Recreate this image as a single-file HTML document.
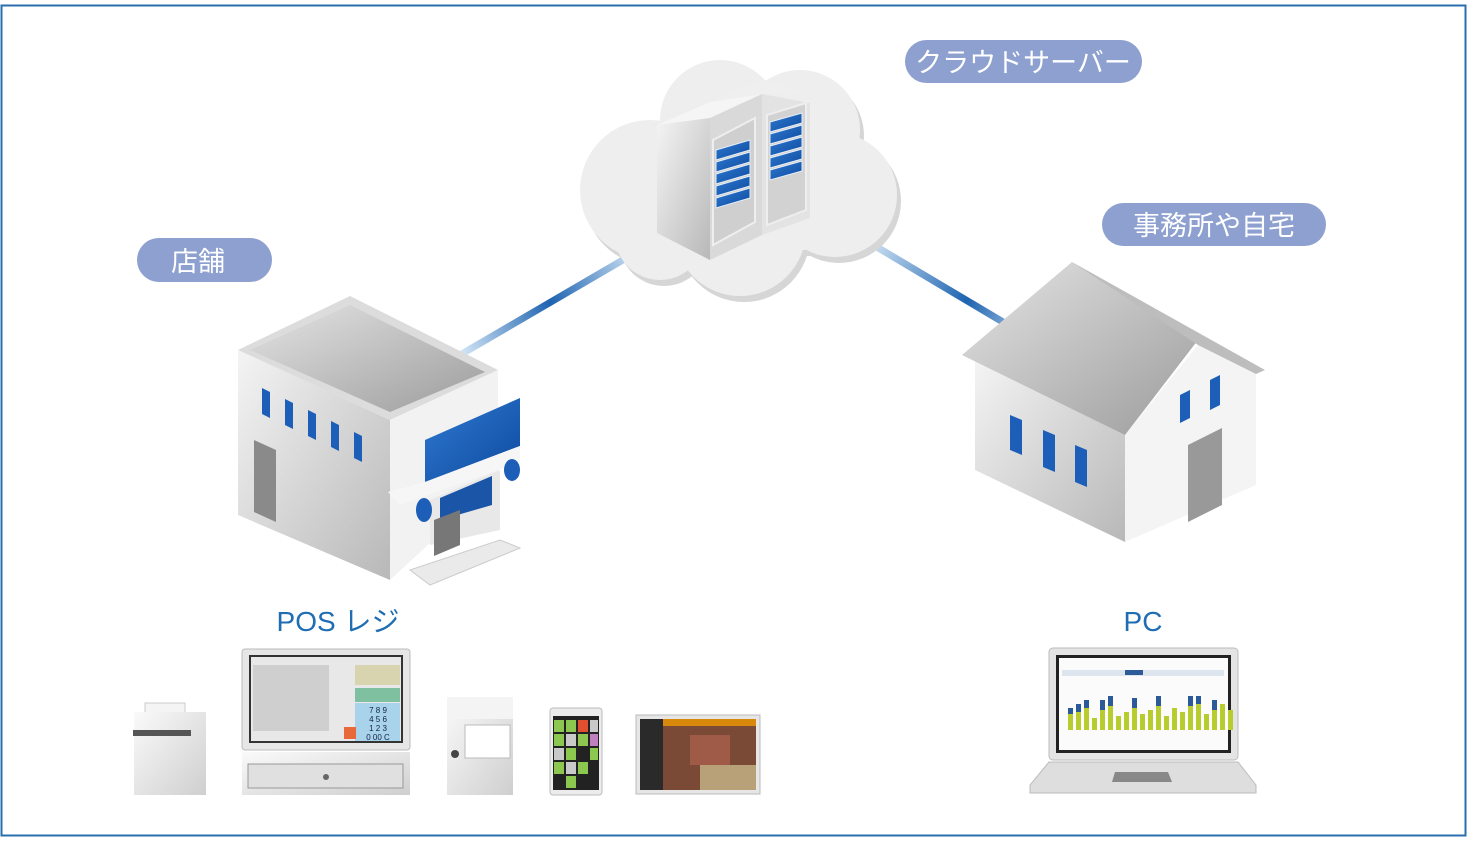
<!DOCTYPE html>
<html><head><meta charset="utf-8"><style>
html,body{margin:0;padding:0;background:#fff;}
svg{display:block;}
text{font-family:"Liberation Sans","Noto Sans CJK JP",sans-serif;}
</style></head><body>
<svg width="1467" height="847" viewBox="0 0 1467 847" xmlns="http://www.w3.org/2000/svg">
<defs>
<linearGradient id="l1" x1="460" y1="355" x2="640" y2="250" gradientUnits="userSpaceOnUse">
<stop offset="0" stop-color="#d6e8f7"/><stop offset="0.5" stop-color="#1e64b0"/><stop offset="1" stop-color="#d6e8f7"/></linearGradient>
<linearGradient id="l2" x1="865" y1="240" x2="1050" y2="350" gradientUnits="userSpaceOnUse">
<stop offset="0" stop-color="#d6e8f7"/><stop offset="0.55" stop-color="#1e64b0"/><stop offset="1" stop-color="#d6e8f7"/></linearGradient>
<linearGradient id="gl" x1="0" y1="0" x2="1" y2="1"><stop offset="0" stop-color="#f4f4f4"/><stop offset="1" stop-color="#b8b8b8"/></linearGradient>
<linearGradient id="gr" x1="0" y1="0" x2="1" y2="1"><stop offset="0" stop-color="#fafafa"/><stop offset="1" stop-color="#cfcfcf"/></linearGradient>
<linearGradient id="roof" x1="0" y1="0" x2="1" y2="1"><stop offset="0" stop-color="#e4e4e4"/><stop offset="1" stop-color="#9c9c9c"/></linearGradient>
<linearGradient id="blue" x1="0" y1="0" x2="1" y2="1"><stop offset="0" stop-color="#2f7ad0"/><stop offset="1" stop-color="#0d4aa0"/></linearGradient>
</defs>
<rect x="1.5" y="5.5" width="1464" height="830" fill="#fff" stroke="#2a6fad" stroke-width="2"/>

<line x1="460" y1="355" x2="640" y2="250" stroke="url(#l1)" stroke-width="7"/>
<line x1="865" y1="240" x2="1050" y2="350" stroke="url(#l2)" stroke-width="7"/>

<g fill="#d6d6d6" transform="translate(4,6)">
<circle cx="650" cy="190" r="70"/><circle cx="720" cy="120" r="60"/><circle cx="800" cy="130" r="60"/><circle cx="835" cy="195" r="62"/><circle cx="740" cy="230" r="66"/><circle cx="660" cy="235" r="45"/><rect x="620" y="140" width="240" height="110"/>
</g>
<g fill="#eeeeee">
<circle cx="650" cy="190" r="70"/><circle cx="720" cy="120" r="60"/><circle cx="800" cy="130" r="60"/><circle cx="835" cy="195" r="62"/><circle cx="740" cy="230" r="66"/><circle cx="660" cy="235" r="45"/><rect x="620" y="140" width="240" height="110"/>
</g>
<polygon points="657,125 710,102 762,94 710,118" fill="#f5f5f5"/>
<polygon points="710,102 763,79 808,95 762,94" fill="#efefef"/>
<polygon points="657,125 710,118 710,260 657,233" fill="url(#gl)"/>
<polygon points="710,118 762,94 762,235 710,260" fill="#d9d9d9"/>
<polygon points="762,94 810,103 810,218 762,235" fill="#e3e3e3"/>
<polygon points="713,140 755,118 755,222 713,245" fill="#cfcfcf" stroke="#eee" stroke-width="2"/>
<polygon points="767,115 806,103 806,210 767,225" fill="#d2d2d2" stroke="#eee" stroke-width="2"/>
<g fill="url(#blue)" stroke="#e6eef8" stroke-width="1">
<polygon points="716,150 750,140 750,150 716,160"/><polygon points="716,162 750,152 750,162 716,172"/><polygon points="716,174 750,164 750,174 716,184"/><polygon points="716,186 750,176 750,186 716,196"/><polygon points="716,198 750,188 750,198 716,208"/>
<polygon points="770,122 802,113 802,123 770,132"/><polygon points="770,134 802,125 802,135 770,144"/><polygon points="770,146 802,137 802,147 770,156"/><polygon points="770,158 802,149 802,159 770,168"/><polygon points="770,170 802,161 802,171 770,180"/>
</g>

<polygon points="238,350 350,296 498,370 390,420" fill="#dcdcdc"/>
<polygon points="250,350 350,305 485,372 390,412" fill="url(#roof)"/>
<polygon points="238,350 390,420 390,580 238,515" fill="url(#gl)"/>
<polygon points="390,420 498,370 498,480 390,580" fill="#f2f2f2"/>
<g fill="#1d5fb8">
<polygon points="262,388 270,392 270,418 262,414"/><polygon points="285,399 293,403 293,429 285,425"/><polygon points="308,410 316,414 316,440 308,436"/><polygon points="331,421 339,425 339,451 331,447"/><polygon points="354,432 362,436 362,462 354,458"/>
</g>
<polygon points="254,440 276,450 276,522 254,512" fill="#8a8a8a"/>
<polygon points="425,440 520,398 520,446 425,482" fill="url(#blue)"/>
<polygon points="388,492 425,482 520,446 520,462 400,505" fill="#f6f6f6"/>
<polygon points="430,500 500,470 500,530 430,545" fill="#e8e8e8"/>
<polygon points="440,498 492,476 492,505 440,520" fill="#1a55a8"/>
<ellipse cx="424" cy="510" rx="8" ry="12" fill="#1d5fb8"/><ellipse cx="512" cy="470" rx="8" ry="11" fill="#1d5fb8"/>
<polygon points="434,520 460,510 460,545 434,556" fill="#777"/>
<polygon points="410,570 500,540 520,548 430,585" fill="#eaeaea" stroke="#ccc"/>

<polygon points="975,360 1125,435 1125,542 975,470" fill="url(#gl)"/>
<polygon points="1125,435 1198,345 1256,372 1256,485 1125,542" fill="#f4f4f4"/>
<polygon points="962,355 1072,262 1198,340 1125,435" fill="url(#roof)"/>
<polygon points="1072,262 1265,370 1256,374 1198,345" fill="#bdbdbd"/>
<g fill="#1d5fb8">
<polygon points="1010,415 1022,420 1022,455 1010,450"/><polygon points="1043,430 1055,435 1055,472 1043,467"/><polygon points="1075,445 1087,450 1087,487 1075,482"/>
<polygon points="1180,395 1190,390 1190,418 1180,423"/><polygon points="1210,380 1220,375 1220,405 1210,410"/>
</g>
<polygon points="1188,445 1222,428 1222,505 1188,522" fill="#999"/>

<rect x="905" y="40" width="237" height="43" rx="21.5" fill="#8da0d0"/>
<text x="1023" y="72" font-size="27" fill="#fff" text-anchor="middle">クラウドサーバー</text>
<rect x="1102" y="203" width="224" height="43" rx="21.5" fill="#8da0d0"/>
<text x="1214" y="235" font-size="27" fill="#fff" text-anchor="middle">事務所や自宅</text>
<rect x="137" y="238" width="135" height="44" rx="22" fill="#8da0d0"/>
<text x="198" y="271" font-size="27" fill="#fff" text-anchor="middle">店舗</text>
<text x="338" y="631" font-size="28" fill="#1f6db3" text-anchor="middle">POS レジ</text>
<text x="1143" y="631" font-size="28" fill="#1f6db3" text-anchor="middle">PC</text>

<rect x="145" y="703" width="40" height="25" fill="#f4f4f4" stroke="#ccc"/>
<rect x="134" y="712" width="72" height="83" fill="url(#gr)"/>
<rect x="133" y="730" width="58" height="6" fill="#555"/>
<rect x="242" y="649" width="168" height="101" rx="3" fill="#e6e6e6" stroke="#bbb"/>
<rect x="249" y="655" width="154" height="88" fill="#333"/>
<rect x="251" y="657" width="150" height="84" fill="#e8e8e8"/>
<rect x="253" y="665" width="76" height="66" fill="#cfcfcf"/>
<rect x="355" y="665" width="45" height="20" fill="#d9d4b0"/>
<rect x="355" y="688" width="45" height="14" fill="#7fc0a0"/>
<rect x="355" y="703" width="45" height="38" fill="#a9d3ea"/>
<text x="378" y="713" font-size="8" fill="#124" text-anchor="middle">7 8 9</text>
<text x="378" y="722" font-size="8" fill="#124" text-anchor="middle">4 5 6</text>
<text x="378" y="731" font-size="8" fill="#124" text-anchor="middle">1 2 3</text>
<text x="378" y="740" font-size="8" fill="#124" text-anchor="middle">0 00 C</text>
<rect x="344" y="727" width="12" height="12" fill="#e86a3a"/>
<rect x="242" y="752" width="168" height="43" fill="url(#gr)"/>
<rect x="248" y="764" width="155" height="24" fill="#e0e0e0" stroke="#999"/>
<circle cx="326" cy="777" r="3" fill="#666"/>
<rect x="447" y="697" width="66" height="98" fill="url(#gr)"/>
<rect x="447" y="697" width="66" height="22" fill="#f4f4f4"/>
<rect x="465" y="725" width="45" height="33" fill="#fff" stroke="#bbb"/>
<circle cx="455" cy="754" r="4" fill="#444"/>
<rect x="550" y="708" width="52" height="87" rx="3" fill="#ececec" stroke="#bbb"/>
<rect x="553" y="716" width="46" height="74" fill="#222"/>
<g fill="#8cc850"><rect x="554" y="720" width="10" height="12"/><rect x="566" y="720" width="10" height="12"/><rect x="554" y="734" width="10" height="12"/><rect x="578" y="734" width="10" height="12"/><rect x="566" y="748" width="10" height="12"/><rect x="590" y="748" width="8" height="12"/><rect x="554" y="762" width="10" height="12"/><rect x="578" y="762" width="10" height="12"/><rect x="566" y="776" width="10" height="12"/></g>
<g fill="#c9c9c9"><rect x="590" y="720" width="8" height="12"/><rect x="566" y="734" width="10" height="12"/><rect x="554" y="748" width="10" height="12"/><rect x="566" y="762" width="10" height="12"/></g>
<rect x="578" y="720" width="10" height="12" fill="#e05030"/>
<rect x="590" y="734" width="8" height="12" fill="#c080c0"/>
<rect x="636" y="715" width="124" height="79" fill="#e6e6e6" stroke="#bbb"/>
<rect x="640" y="719" width="116" height="71" fill="#2a2a2a"/>
<rect x="663" y="719" width="93" height="7" fill="#d8890c"/>
<rect x="663" y="726" width="93" height="64" fill="#7a4a36"/>
<rect x="690" y="735" width="40" height="30" fill="#a05a48"/>
<rect x="700" y="765" width="56" height="25" fill="#b8a078"/>

<rect x="1049" y="648" width="189" height="112" rx="4" fill="#e4e4e4" stroke="#bbb"/>
<rect x="1056" y="655" width="175" height="98" fill="#222"/>
<rect x="1059" y="658" width="169" height="92" fill="#fbfbfb"/>
<rect x="1062" y="670" width="162" height="6" fill="#dde6ee"/>
<rect x="1125" y="670" width="18" height="5" fill="#2d5c99"/>
<g>
<path d="M1068 730 V714 h5 v16 h3 v-18 h5 v18 h3 v-22 h5 v22 h3 v-12 h5 v12 h3 v-20 h5 v20 h3 v-24 h5 v24 h3 v-14 h5 v14 h3 v-18 h5 v18 h3 v-22 h5 v22 h3 v-16 h5 v16 h3 v-20 h5 v20 h3 v-24 h5 v24 h3 v-14 h5 v14 h3 v-22 h5 v22 h3 v-18 h5 v18 h3 v-24 h5 v24 h3 v-26 h5 v26 h3 v-16 h5 v16 h3 v-24 h5 v24 h3 v-26 h5 v26 h3 v-20 h5 v20 Z" fill="#b8cc30"/>
<path d="M1068 714 v-6 h5 v6 M1076 712 v-8 h5 v8 M1084 708 v-8 h5 v8 M1100 710 v-10 h5 v10 M1108 706 v-10 h5 v10 M1132 708 v-10 h5 v10 M1156 706 v-10 h5 v10 M1188 706 v-10 h5 v10 M1196 704 v-8 h5 v8 M1212 710 v-10 h5 v10" fill="#2a5a98"/>
</g>
<polygon points="1049,762 1238,762 1256,785 1256,793 1030,793 1030,785" fill="#dedede" stroke="#bbb"/>
<polygon points="1115,772 1168,772 1172,782 1112,782" fill="#888"/>
</svg>
</body></html>
